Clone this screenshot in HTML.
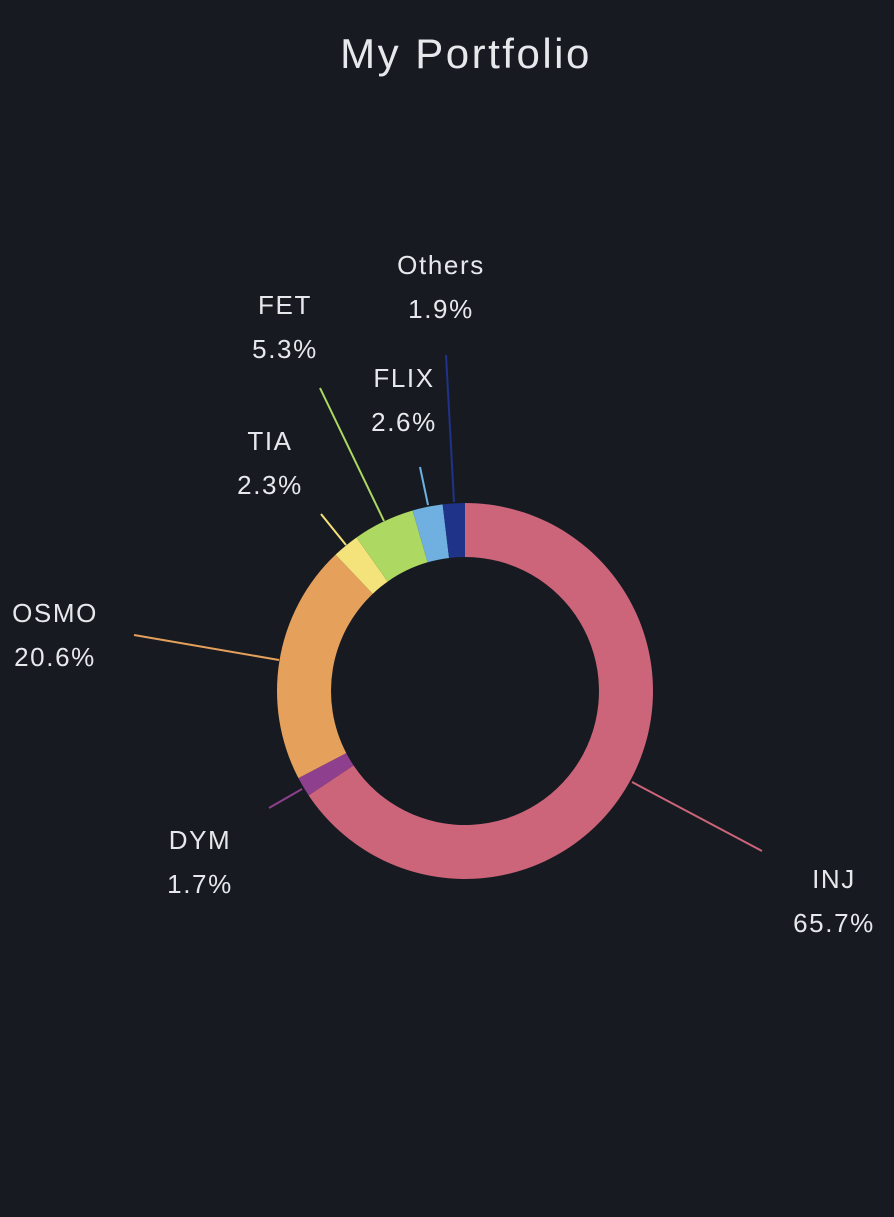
<!DOCTYPE html>
<html><head><meta charset="utf-8">
<style>
html,body{margin:0;padding:0;background:#171b21;}
body{width:894px;height:1212px;overflow:hidden;}
svg text{font-family:"Liberation Sans",sans-serif;fill:#e6e8ec;}
</style></head>
<body>
<svg id="s" width="894" height="1212" viewBox="0 0 894 1212">
<rect width="894" height="1212" fill="#171b21"/>
<text x="466" y="68" font-size="42" letter-spacing="2.5" text-anchor="middle">My Portfolio</text>
<g id="slices"></g>
<g stroke-width="2" fill="none">
<line x1="632" y1="782" x2="762" y2="851" stroke="#cc647a"/>
<line x1="302" y1="789" x2="269" y2="808" stroke="#8e3f8e"/>
<line x1="279" y1="660" x2="134" y2="635" stroke="#e5a05c"/>
<line x1="346" y1="545" x2="321" y2="514" stroke="#f4e27a"/>
<line x1="384" y1="521" x2="320" y2="388" stroke="#add962"/>
<line x1="428" y1="505" x2="420" y2="467" stroke="#6fb0e0"/>
<line x1="454" y1="502" x2="446" y2="355" stroke="#1f3388"/>
</g>
<g font-size="26" letter-spacing="1.6" text-anchor="middle" transform="translate(1,0)">
<text x="833" y="888">INJ</text><text x="833" y="932">65.7%</text>
<text x="199" y="849">DYM</text><text x="199" y="893">1.7%</text>
<text x="54" y="622">OSMO</text><text x="54" y="666">20.6%</text>
<text x="269" y="450">TIA</text><text x="269" y="494">2.3%</text>
<text x="284" y="314">FET</text><text x="284" y="358">5.3%</text>
<text x="403" y="387">FLIX</text><text x="403" y="431">2.6%</text>
<text x="440" y="274">Others</text><text x="440" y="318">1.9%</text>
</g>
</svg>
<script>
var d=[[65.7,"#cc647a"],[1.7,"#8e3f8e"],[20.6,"#e5a05c"],[2.3,"#f4e27a"],[5.3,"#add962"],[2.6,"#6fb0e0"],[1.9,"#1f3388"]];
var tot=0;d.forEach(function(x){tot+=x[0]});
var cx=465,cy=691,R=188,r=134,a=0,g=document.getElementById("slices"),h="";
function p(ang,rad){return [cx+rad*Math.sin(ang),cy-rad*Math.cos(ang)];}
d.forEach(function(x){
 var b=a+x[0]/tot*2*Math.PI,l=(b-a)>Math.PI?1:0;
 var p1=p(a,R),p2=p(b,R),p3=p(b,r),p4=p(a,r);
 h+='<path fill="'+x[1]+'" d="M'+p1+' A'+R+','+R+' 0 '+l+' 1 '+p2+' L'+p3+' A'+r+','+r+' 0 '+l+' 0 '+p4+' Z"/>';
 a=b;
});
g.innerHTML=h;
</script>
</body></html>
